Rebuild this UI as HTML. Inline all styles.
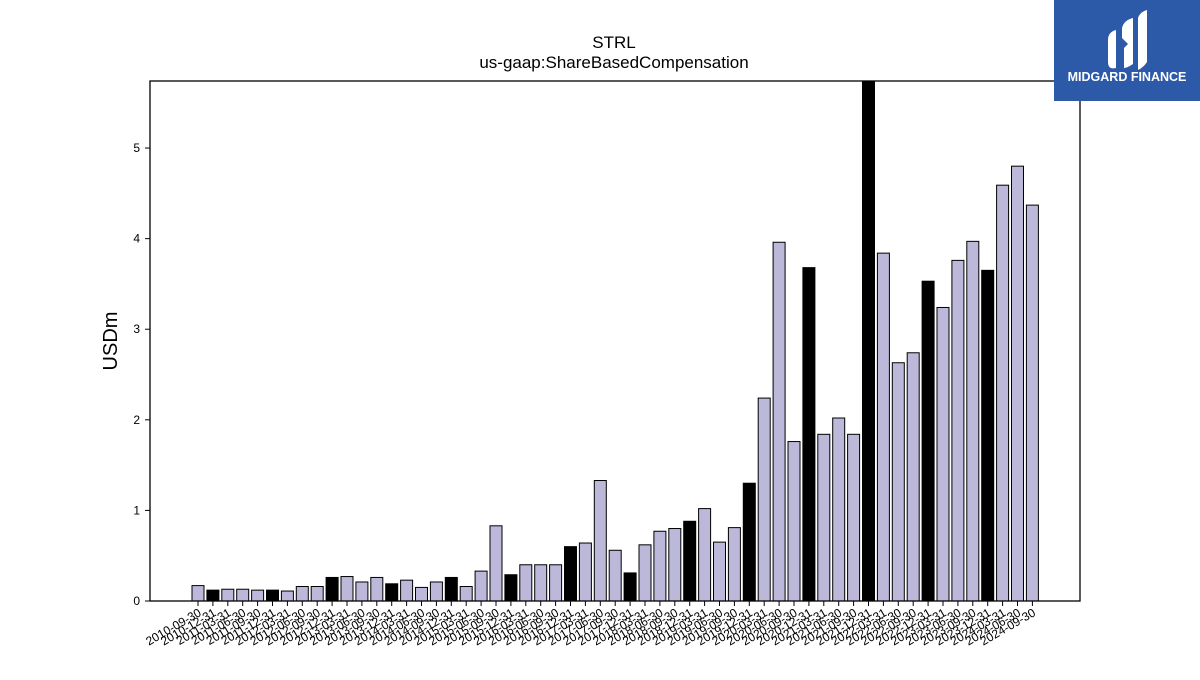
<!DOCTYPE html>
<html><head><meta charset="utf-8"><style>
body{margin:0;background:#fff;width:1200px;height:675px;overflow:hidden;font-family:"Liberation Sans","DejaVu Sans",sans-serif}
</style></head><body>
<svg id="chart" width="1200" height="675" xmlns="http://www.w3.org/2000/svg">
<text x="614" y="48" text-anchor="middle" font-size="17">STRL</text>
<text x="614" y="68" text-anchor="middle" font-size="17">us-gaap:ShareBasedCompensation</text>
<text transform="translate(117,341) rotate(-90)" text-anchor="middle" font-size="20">USDm</text>
<g id="bars"></g>
<g id="yaxis"></g>
<g id="xaxis"></g>
<rect x="150" y="81" width="930" height="520" fill="none" stroke="#000" stroke-width="1.3"/>
<g>
<rect x="1054" y="0" width="146" height="101" fill="#2c5aa8"/>
<path d="M1108 40 Q1108 32 1116 30 L1116 68 Q1108 70 1108 62 Z" fill="#fff"/>
<path d="M1122 28 Q1124 20 1133 18 L1133 64 Q1127 68 1124 68 L1124 48 L1128 44 L1122 38 Z" fill="#fff"/>
<path d="M1138 18 Q1140 12 1147 10 L1147 62 Q1143 68 1138 70 Z" fill="#fff"/>
<text x="1127" y="81" text-anchor="middle" font-size="12.5" font-weight="bold" fill="#fff">MIDGARD FINANCE</text>
</g>
</svg>
<script>
const categories=[];
(function(){const q=["03-31","06-30","09-30","12-31"];for(let y=2010;y<=2024;y++)for(const d of q){const s=y+"-"+d;if(s>="2010-09-30"&&s<="2024-09-30")categories.push(s);}})();
const values=[0.17,0.12,0.13,0.13,0.12,0.12,0.11,0.16,0.16,0.26,0.27,0.21,0.26,0.19,0.23,0.15,0.21,0.26,0.16,0.33,0.83,0.29,0.40,0.40,0.40,0.60,0.64,1.33,0.56,0.31,0.62,0.77,0.80,0.88,1.02,0.65,0.81,1.30,2.24,3.96,1.76,3.68,1.84,2.02,1.84,6.0,3.84,2.63,2.74,3.53,3.24,3.76,3.97,3.65,4.59,4.80,4.37];
const yTicks=[0,1,2,3,4,5];
const NS="http://www.w3.org/2000/svg";
const x0=150,x1=1080,yTop=81,yBot=601,yMax=5.74;
const step=14.9,first=198;
const xPos=i=>first+i*step;
const yPos=v=>yBot-(Math.min(v,yMax)/yMax)*(yBot-yTop);
const bars=document.getElementById('bars'),xa=document.getElementById('xaxis'),ya=document.getElementById('yaxis');
function mk(t,a){const e=document.createElementNS(NS,t);for(const k in a)e.setAttribute(k,a[k]);return e;}
values.forEach((v,i)=>{
 const cx=xPos(i),y=yPos(v);
 const r=mk('rect',{x:cx-6,y:y,width:12,height:yBot-y,fill:categories[i].endsWith('12-31')?'#000':'#bcb8da',stroke:'#000','stroke-width':1});
 
 
 bars.appendChild(r);
});
categories.forEach((c,i)=>{
 const cx=xPos(i);
 const t=mk('line',{x1:cx,x2:cx,y1:yBot,y2:yBot+5,stroke:'#000','stroke-width':1});
 
 
 xa.appendChild(t);
 const l=mk('text',{transform:`translate(${cx+4},${yBot+14}) rotate(-30)`,'text-anchor':'end','font-size':12});
 
 
 l.textContent=c;xa.appendChild(l);
});
yTicks.forEach(v=>{
 const y=yPos(v);
 const t=mk('line',{x1:x0-5,x2:x0,y1:y,y2:y,stroke:'#000','stroke-width':1});
 
 
 ya.appendChild(t);
 const l=mk('text',{x:x0-10,y:y+4,'text-anchor':'end','font-size':12});
 
 
 l.textContent=v;ya.appendChild(l);
});
</script>
</body></html>
